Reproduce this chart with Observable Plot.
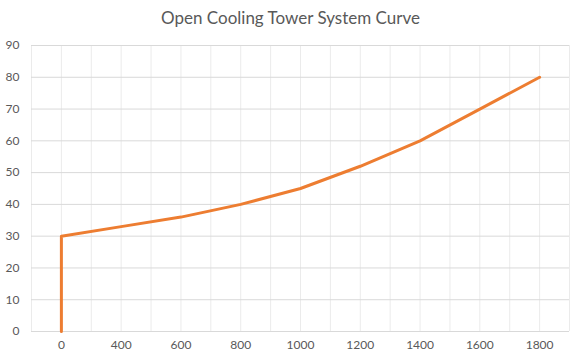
<!DOCTYPE html>
<html>
<head>
<meta charset="utf-8">
<script src="https://cdn.jsdelivr.net/npm/d3@7"></script>
<script src="https://cdn.jsdelivr.net/npm/@observablehq/plot@0.6"></script>
<style>
  body { margin: 0; background: #fff; font-family: Lato, "Open Sans", sans-serif; }
  #title { height: 36px; line-height: 36px; text-align: center; font-size: 17px; color: #595959; width: 581px; }
</style>
</head>
<body>
<div id="title">Open Cooling Tower System Curve</div>
<div id="chart"></div>
<script>
const categories = ["0", "400", "600", "800", "1000", "1200", "1400", "1600", "1800"];
const flow = ["0", "0", "400", "600", "800", "1000", "1200", "1400", "1600", "1800"];
const head = [0, 30, 33, 36, 40, 45, 52, 60, 70, 80];
const yTicks = [0, 10, 20, 30, 40, 50, 60, 70, 80, 90];

const data = flow.map((f, i) => ({x: categories.indexOf(f), y: head[i]}));
const n = categories.length;
const vGrid = d3.range(-0.5, n, 0.5);

const chart = Plot.plot({
  width: 581,
  height: 325,
  marginLeft: 31,
  marginRight: 12,
  marginTop: 9,
  marginBottom: 30,
  style: {fontSize: "12px", fontFamily: "Lato, 'Open Sans', sans-serif", color: "#595959", background: "#fff"},
  x: {domain: [-0.5, n - 0.5], ticks: d3.range(n), tickFormat: i => categories[i], tickSize: 0, tickPadding: 9, label: null},
  y: {domain: [0, 90], ticks: yTicks, tickSize: 0, tickPadding: 12, label: null},
  marks: [
    Plot.ruleX(vGrid, {stroke: "#ebebeb"}),
    Plot.ruleY(yTicks, {stroke: "#d9d9d9"}),
    Plot.line(data, {x: "x", y: "y", stroke: "#ED7D31", strokeWidth: 3})
  ]
});
document.getElementById("chart").appendChild(chart);
</script>
</body>
</html>
